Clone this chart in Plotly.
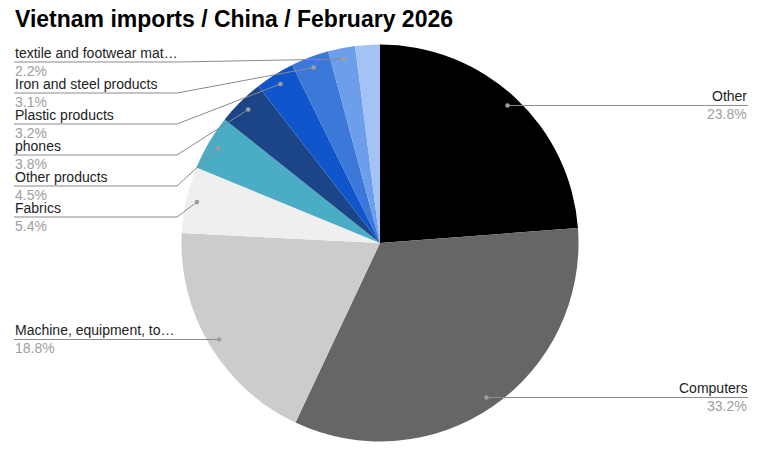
import math
import plotly.graph_objects as go

# ---- data ----
categories = [
    "Other",
    "Computers",
    "Machine, equipment, to…",
    "Fabrics",
    "Other products",
    "phones",
    "Plastic products",
    "Iron and steel products",
    "textile and footwear mat…",
    "Remaining items",
]
shares = [23.8, 33.2, 18.8, 5.4, 4.5, 3.8, 3.2, 3.1, 2.2, 2.0]
show_label = [True, True, True, True, True, True, True, True, True, False]
colors = [
    "#000000", "#666666", "#cccccc", "#efefef", "#4bacc6",
    "#1c4587", "#1155cc", "#3c78d8", "#6d9eeb", "#a4c2f4",
]
title_text = "Vietnam imports / China / February 2026"

# ---- layout geometry (pixels) ----
W, H = 761, 458
CX, CY, R = 380, 243, 198.5
DOT_R = 0.945 * R
LEFT_X, LEFT_BEND = 14, 177
RIGHT_X = 748
MIN_TOP = 62
GAP = 31

def px(x):
    return x / W

def py(y):
    return 1 - y / H

fig = go.Figure()
fig.add_trace(go.Pie(
    labels=categories,
    values=shares,
    sort=False,
    direction="clockwise",
    rotation=0,
    marker=dict(colors=colors, line=dict(width=0)),
    textinfo="none",
    hoverinfo="label+percent",
    showlegend=False,
    domain=dict(x=[px(CX - R), px(CX + R)], y=[py(CY + R), py(CY - R)]),
))

total = sum(shares)
cum = 0.0
left_items, right_items = [], []
for name, v, show in zip(categories, shares, show_label):
    theta = 2 * math.pi * (cum + v / 2) / total
    cum += v
    if not show:
        continue
    dx = CX + DOT_R * math.sin(theta)
    dy = CY - DOT_R * math.cos(theta)
    item = dict(name=name, pct=f"{v:.1f}%", dx=dx, dy=dy)
    (left_items if math.sin(theta) < 0 else right_items).append(item)

shapes, annotations = [], []
line_col = "#8a8a8a"

def place(items):
    items.sort(key=lambda it: it["dy"])
    prev = None
    for it in items:
        y = max(it["dy"], MIN_TOP)
        if prev is not None:
            y = max(y, prev + GAP)
        it["ly"] = y
        prev = y

for side, items in (("left", left_items), ("right", right_items)):
    place(items)
    for it in items:
        ly = it["ly"]
        if side == "left":
            pts = [(LEFT_X, ly), (LEFT_BEND, ly), (it["dx"], it["dy"])]
            tx, anchor = LEFT_X, "left"
        else:
            pts = [(it["dx"], it["dy"]), (RIGHT_X, ly)]
            tx, anchor = RIGHT_X, "right"
        path = "M " + " L ".join(f"{px(a):.5f},{py(b):.5f}" for a, b in pts)
        shapes.append(dict(type="path", xref="paper", yref="paper", path=path,
                           line=dict(color=line_col, width=1)))
        rr = 2.3
        shapes.append(dict(type="circle", xref="paper", yref="paper",
                           x0=px(it["dx"] - rr), x1=px(it["dx"] + rr),
                           y0=py(it["dy"] + rr), y1=py(it["dy"] - rr),
                           fillcolor="#9e9e9e", line=dict(width=0)))
        annotations.append(dict(x=px(tx), y=py(ly), xref="paper", yref="paper",
                                text=it["name"], showarrow=False, xanchor=anchor,
                                yanchor="bottom", borderpad=0, yshift=0,
                                font=dict(size=14, color="#222222")))
        annotations.append(dict(x=px(tx), y=py(ly), xref="paper", yref="paper",
                                text=it["pct"], showarrow=False, xanchor=anchor,
                                yanchor="top", borderpad=0, yshift=0,
                                font=dict(size=14, color="#9e9e9e")))

annotations.append(dict(x=px(14), y=py(5), xref="paper", yref="paper",
                        text=f"<b>{title_text}</b>", showarrow=False,
                        xanchor="left", yanchor="top", borderpad=0,
                        font=dict(size=23, color="#000000")))

fig.update_layout(
    width=W, height=H,
    margin=dict(l=0, r=0, t=0, b=0),
    paper_bgcolor="#ffffff",
    plot_bgcolor="#ffffff",
    font=dict(family="Liberation Sans, Arial, sans-serif"),
    shapes=shapes,
    annotations=annotations,
)

fig.write_html("out.html", config={"displayModeBar": False},
               post_script="document.body.style.margin='0';")
